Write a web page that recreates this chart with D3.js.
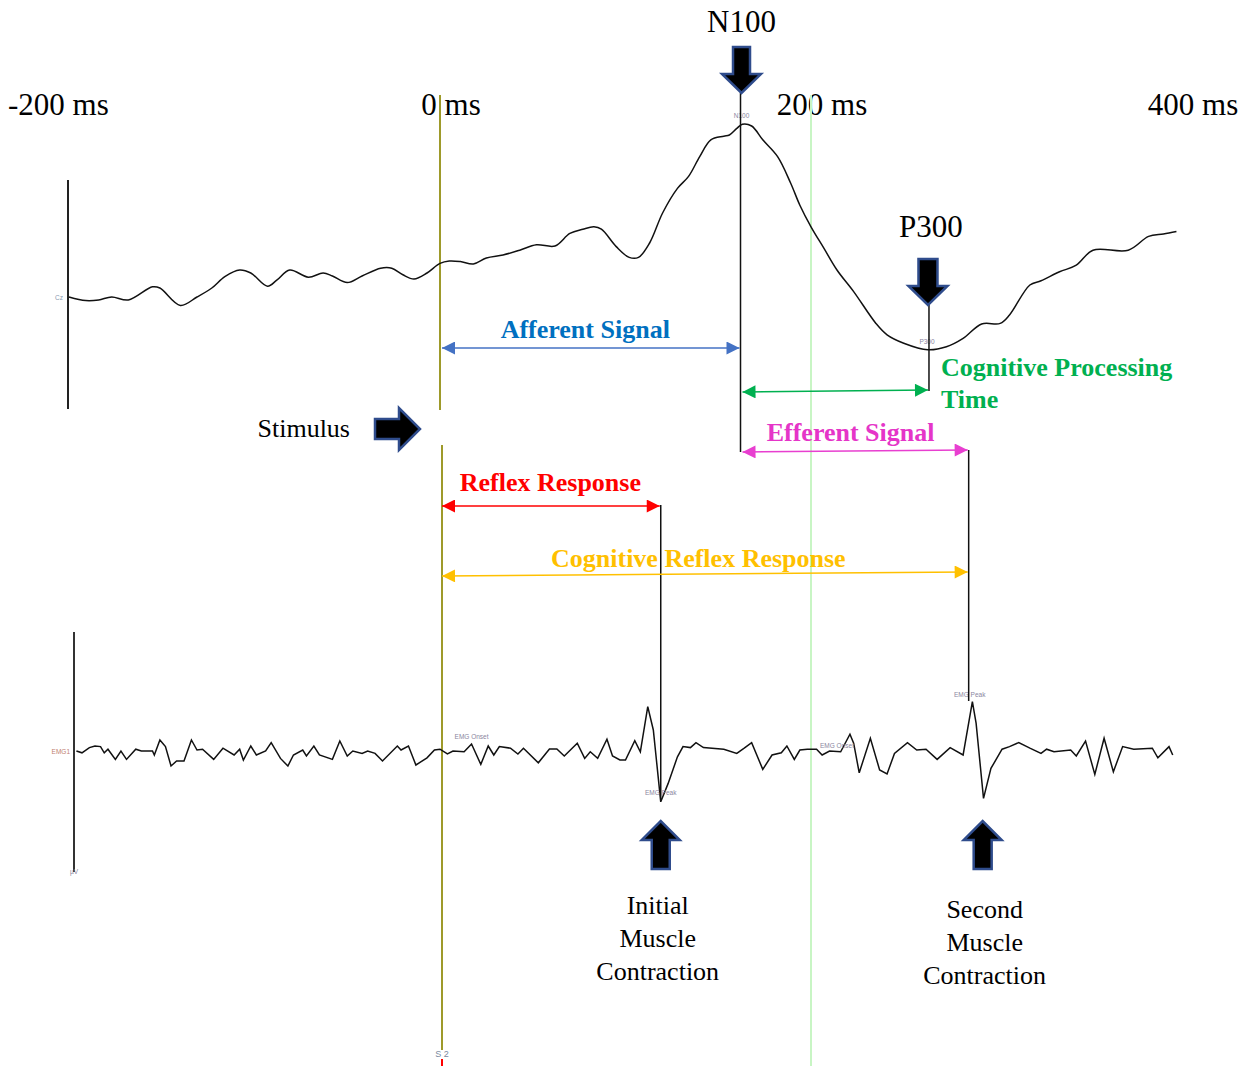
<!DOCTYPE html>
<html><head><meta charset="utf-8">
<script src="https://cdn.jsdelivr.net/npm/d3@7"></script>
<style>html,body{margin:0;padding:0;background:#fff;}svg{display:block;}</style>
</head><body>
<script>
// ---------- DATA ----------
const tickLabels = ["-200 ms", "0 ms", "200 ms", "400 ms"];
const tickTimes = [-200, 0, 200, 400];

// EEG (Cz) trace: time (ms) and amplitude (µV, arbitrary units)
const eegTimes = [-200,-191,-184,-177,-168,-155,-151,-140,-131,-123,-116,-108,-102,-93,-88,-81,-71,-63,-58,-50,-42,-32,-26,-20,-14,-7,
  0,5,11,18,25,34,43,52,62,70,77,83,87,95,102,107,113,120,128,134,140,146,153,156,160,163,168,174,182,189,194,200,207,214,223,
  235,241,250,263,273,282,292,302,307,318,324,334,343,352,371,382,390,397];
const eegValues = [0,-0.6,-0.5,0,-0.5,1.7,1.5,-1.4,0,1.5,3.4,4.5,4.0,1.8,2.8,4.5,3.3,4.0,3.5,2.4,3.5,4.8,4.8,3.7,3.0,4.0,
  5.6,6.0,5.9,5.5,6.5,7.0,7.8,8.7,8.5,10.6,11.3,11.7,11.3,8.4,6.6,6.6,9.0,14.0,18.1,20.1,23.4,26.2,26.8,27.0,28.1,28.8,28.5,26.2,23.4,19.0,15.3,11.7,8.1,4.5,0.9,
  -4.4,-6.3,-7.7,-8.8,-8.3,-6.9,-4.5,-4.4,-3.0,2.0,2.7,4.2,5.3,7.8,7.8,10.1,10.5,10.9];

// EMG1 trace: time (ms) and amplitude (µV, arbitrary units)
const emgTimes = [-196,-193,-189,-186,-183,-181,-179,-175,-172,-169,-164,-161,-155,-154,-151,-148,-145,-142,-138,-134,-131,-128,-122,-117,-111,-108,-106,-102,-99,-94,-91,-86,-82,-79,-74,-72,-68,-65,-58,-54,-50,-47,-42,-39,-35,-31,-23,-21,-17,-13,-7,-3,
  0,4,7,13,17,22,26,29,32,38,42,45,53,59,63,67,74,78,81,85,90,93,97,100,105,108,112,115,119,123,128,131,135,138,142,153,160,164,168,174,179,184,187,191,194,198,
  203,206,210,216,221,223,226,232,237,241,245,252,257,262,268,275,282,287,289,293,297,303,307,312,318,324,327,331,340,343,348,353,358,363,368,374,384,387,393,395];
const emgValues = [-0.5,-1.4,1.2,2,1.7,-1.4,0.4,-4.7,-0.5,-4.7,0.4,-0.5,-0.5,-2.5,5,1.7,-8,-5.5,-5.5,5,0,0.4,-4.7,0.9,-2.5,0.4,-5,2,-2.5,-0.5,3.7,-4.2,-8,-2.5,0,-3,2,-2.5,-4.7,4.5,-3,-0.5,-1.7,-0.5,-1.7,-5.5,2,0,2,-7.5,-3.9,0,
  0.4,-2,-0.5,-0.9,3,-7.2,2,-2.5,1.7,0.9,-2,0.9,-6.4,0.5,0.5,-3,3.4,-4.2,-0.9,-4.2,5.4,-3,-5,-5,4.7,-0.9,21.7,10,-25.9,-16.7,-3.4,1.7,1.2,3.7,1.2,0.4,-1.7,0.9,3.7,-9.7,-2.5,-1.4,2,-4.7,0,0.4,
  0.4,-2.5,-0.5,-0.9,7.9,3.4,-11.4,5.9,-10,-12,-1.7,3.7,0,0.4,-4.7,1.2,-2.5,24.2,13.4,-24.2,-9.2,0.4,1.7,3.7,0.9,-1.7,0.4,-0.9,0,-3,4.5,-12.2,5.9,-10.9,1.7,0.4,0.9,-3.9,1.7,-2.5];

// Events (ms)
const eventNames = ["Stimulus", "N100", "P300", "Initial EMG Peak", "Second EMG Peak", "Reference"];
const eventTimes = [0, 162, 263.6, 119, 285, 200];

// Interval annotations
const intervalNames = ["Afferent Signal", "Cognitive Processing", "Efferent Signal", "Reflex Response", "Cognitive Reflex Response"];
const intervalStarts = [0, 162, 162, 0, 0];
const intervalEnds = [162, 263.6, 285, 119, 285];
const intervalColors = ["#4472C4", "#00B050", "#E83FD0", "#FF0000", "#FFC000"];
const intervalTextColors = ["#0070C0", "#00B050", "#E535C8", "#FF0000", "#FFC000"];

// ---------- DRAW ----------
const W = 1250, H = 1068;
const svg = d3.select("body").append("svg").attr("width", W).attr("height", H);
const serif = "'Liberation Serif','Times New Roman',serif";

const x = d3.scaleLinear().domain([-200, 400]).range([69, 1182]);
const yEEG = d3.scaleLinear().domain([-10, 10]).range([357, 237]);
const yEMG = d3.scaleLinear().domain([-30, 30]).range([810, 690]);
const ev = n => eventTimes[eventNames.indexOf(n)];

// arrow markers
const defs = svg.append("defs");
intervalColors.forEach((c, i) => {
  defs.append("marker").attr("id", "mk" + i).attr("viewBox", "0 0 10 10")
    .attr("refX", 10).attr("refY", 5).attr("markerWidth", 15).attr("markerHeight", 13)
    .attr("markerUnits", "userSpaceOnUse").attr("orient", "auto-start-reverse")
    .append("path").attr("d", "M0,0 L10,5 L0,10 Z").attr("fill", c);
});

// time labels
tickLabels.forEach((t, i) => {
  const first = i === 0;
  svg.append("text").attr("x", first ? 8 : x(tickTimes[i]) + 11).attr("y", 115)
    .attr("text-anchor", first ? "start" : "middle")
    .attr("font-family", serif).attr("font-size", 31).attr("fill", "#000").text(t);
});

// stimulus (olive) and 200ms reference (light green) lines
const xs = x(ev("Stimulus")) + 1;
svg.append("line").attr("x1", xs - 1).attr("x2", xs - 1).attr("y1", 95).attr("y2", 410)
  .attr("stroke", "#9E9A2A").attr("stroke-width", 2);
svg.append("line").attr("x1", xs + 1).attr("x2", xs + 1).attr("y1", 445).attr("y2", 1050)
  .attr("stroke", "#9E9A2A").attr("stroke-width", 2);
svg.append("line").attr("x1", xs + 1).attr("x2", xs + 1).attr("y1", 1059).attr("y2", 1066)
  .attr("stroke", "#FF0000").attr("stroke-width", 2);
svg.append("text").attr("x", xs + 1).attr("y", 1057).attr("text-anchor", "middle")
  .attr("font-family", "Arial,'Liberation Sans',sans-serif").attr("font-size", 9).attr("fill", "#7a8aa0").text("S  2");
const xr = x(ev("Reference"));
svg.append("line").attr("x1", xr).attr("x2", xr).attr("y1", 95).attr("y2", 1066)
  .attr("stroke", "#C8F5C4").attr("stroke-width", 2);

// channel axes
svg.append("line").attr("x1", 68).attr("x2", 68).attr("y1", 180).attr("y2", 409).attr("stroke", "#222").attr("stroke-width", 2);
svg.append("line").attr("x1", 74).attr("x2", 74).attr("y1", 632).attr("y2", 872).attr("stroke", "#333").attr("stroke-width", 2);
const tiny = (tx, ty, s, anchor, col) => svg.append("text").attr("x", tx).attr("y", ty)
  .attr("text-anchor", anchor || "middle").attr("font-family", "Arial,'Liberation Sans',sans-serif")
  .attr("font-size", 6.5).attr("fill", col || "#8a86a0").text(s);
tiny(63, 300, "Cz", "end", "#8a9ab0");
tiny(70, 754, "EMG1", "end", "#c08070");
tiny(74, 874, "µV", "middle", "#8a86a0");

// traces
const lineEEG = d3.line().x(d => x(d[0])).y(d => yEEG(d[1])).curve(d3.curveCatmullRom);
const lineEMG = d3.line().x(d => x(d[0])).y(d => yEMG(d[1])).curve(d3.curveLinear);
svg.append("path").datum(d3.zip(eegTimes, eegValues)).attr("d", lineEEG)
  .attr("fill", "none").attr("stroke", "#111").attr("stroke-width", 1.5);
svg.append("path").datum(d3.zip(emgTimes, emgValues)).attr("d", lineEMG)
  .attr("fill", "none").attr("stroke", "#111").attr("stroke-width", 1.5);

// tiny marker labels on traces
tiny(x(ev("N100")) + 1, 118, "N100");
tiny(x(ev("P300")) - 2, 344, "P300");
tiny(x(17), 739, "EMG Onset");
tiny(x(119), 795, "EMG Peak");
tiny(x(214), 748, "EMG Onset");
tiny(x(285) + 1, 697, "EMG Peak");

// event vertical lines
const vline = (t, y1, y2) => svg.append("line").attr("x1", x(t)).attr("x2", x(t)).attr("y1", y1).attr("y2", y2)
  .attr("stroke", "#111").attr("stroke-width", 1.5);
vline(ev("N100"), 93, 452);
vline(ev("P300"), 305, 391);
vline(ev("Initial EMG Peak"), 505, 800);
vline(ev("Second EMG Peak"), 450, 701);

// interval arrows (slightly tilted as in the hand-drawn original)
const iy1 = [348, 392, 452, 506, 576];
const iy2 = [348, 390, 450, 506, 572];
intervalNames.forEach((n, i) => {
  svg.append("line").attr("x1", x(intervalStarts[i]) + 2).attr("x2", x(intervalEnds[i]) - 1)
    .attr("y1", iy1[i]).attr("y2", iy2[i]).attr("stroke", intervalColors[i]).attr("stroke-width", 1.5)
    .attr("marker-start", `url(#mk${i})`).attr("marker-end", `url(#mk${i})`);
});
const lbl = (i, tx, ty, s, anchor) => svg.append("text").attr("x", tx).attr("y", ty)
  .attr("text-anchor", anchor || "middle").attr("font-family", serif).attr("font-weight", "bold")
  .attr("font-size", 26).attr("fill", intervalTextColors[i]).text(s);
lbl(0, (x(intervalStarts[0]) + x(intervalEnds[0])) / 2 - 5, 338, intervalNames[0]);
lbl(1, x(intervalEnds[1]) + 12, 376, "Cognitive Processing", "start");
lbl(1, x(intervalEnds[1]) + 12, 408, "Time", "start");
lbl(2, (x(intervalStarts[2]) + x(intervalEnds[2])) / 2 - 4, 441, intervalNames[2]);
lbl(3, (x(intervalStarts[3]) + x(intervalEnds[3])) / 2, 491, intervalNames[3]);
lbl(4, (x(intervalStarts[4]) + x(intervalEnds[4])) / 2 - 6, 567, intervalNames[4]);

// block arrows
function blockArrow(tipX, tipY, dir, len, headLen, headW, shaftW) {
  const hw = headW / 2, sw = shaftW / 2;
  let pts;
  if (dir === "down") pts = [[-sw, -len], [sw, -len], [sw, -headLen], [hw, -headLen], [0, 0], [-hw, -headLen], [-sw, -headLen]];
  else if (dir === "up") pts = [[-sw, len], [sw, len], [sw, headLen], [hw, headLen], [0, 0], [-hw, headLen], [-sw, headLen]];
  else pts = [[-len, -sw], [-len, sw], [-headLen, sw], [-headLen, hw], [0, 0], [-headLen, -hw], [-headLen, -sw]];
  svg.append("path").attr("d", d3.line()(pts.map(p => [tipX + p[0], tipY + p[1]])) + "Z")
    .attr("fill", "#000").attr("stroke", "#2F4C8C").attr("stroke-width", 2.5).attr("stroke-linejoin", "miter");
}
blockArrow(x(ev("N100")) + 1, 93, "down", 46, 19, 39, 17);
blockArrow(x(ev("P300")) - 1, 305, "down", 46, 19, 39, 19);
blockArrow(420, 429, "right", 45, 21, 42, 20);
blockArrow(x(ev("Initial EMG Peak")), 821, "up", 48, 19, 38, 18);
blockArrow(x(ev("Second EMG Peak")) + 14, 821, "up", 48, 19, 38, 18);

// plain labels
const txt = (tx, ty, s, size, anchor) => svg.append("text").attr("x", tx).attr("y", ty)
  .attr("text-anchor", anchor || "middle").attr("font-family", serif).attr("font-size", size).attr("fill", "#000").text(s);
txt(x(ev("N100")) + 1, 32, "N100", 31);
txt(x(ev("P300")) + 2, 237, "P300", 31);
txt(350, 437, "Stimulus", 26, "end");
["Initial", "Muscle", "Contraction"].forEach((s, i) => txt(x(ev("Initial EMG Peak")) - 3, 914 + 33 * i, s, 26));
["Second", "Muscle", "Contraction"].forEach((s, i) => txt(x(ev("Second EMG Peak")) + 16, 918 + 33 * i, s, 26));
</script>
</body></html>
